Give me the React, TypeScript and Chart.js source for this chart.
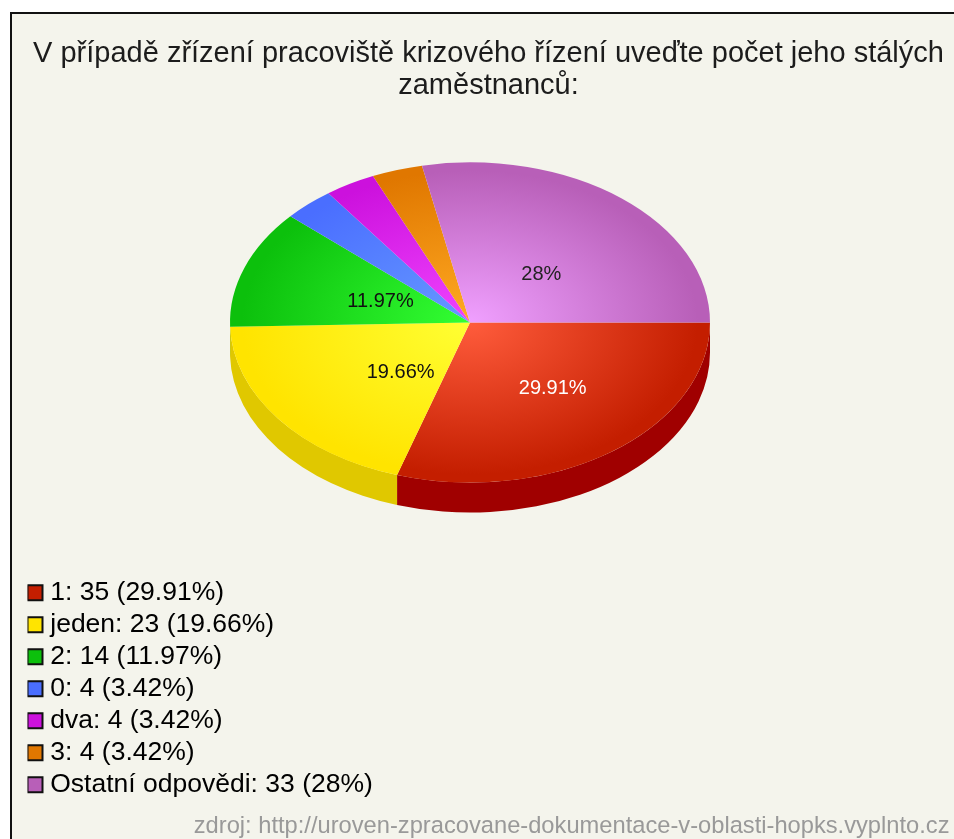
import React, { useEffect, useRef } from "react";
import { Chart, registerables } from "chart.js";

Chart.register(...registerables);

const titleLines = ["V případě zřízení pracoviště krizového řízení uveďte počet jeho stálých", "zaměstnanců:"];
const sourceText = "zdroj: http://uroven-zpracovane-dokumentace-v-oblasti-hopks.vyplnto.cz";
const categories = ["1", "jeden", "2", "0", "dva", "3", "Ostatní odpovědi"];
const counts = [35, 23, 14, 4, 4, 4, 33];
const percents = ["29.91%", "19.66%", "11.97%", "3.42%", "3.42%", "3.42%", "28%"];
const sliceLabels = ["29.91%", "19.66%", "11.97%", "", "", "", "28%"];
const labelColors = ["#ffffff", "#111111", "#111111", "#111111", "#111111", "#111111", "#222222"];
const labelNudges = [[19, 8], [17, 7], [12, 4], [0, 0], [0, 0], [0, 0], [3, 8]];
const outerColors = ["#c41e00", "#ffe400", "#0cc00c", "#4a6eff", "#cc11dd", "#e07700", "#b85fb8"];
const innerColors = ["#ff5c3c", "#ffff33", "#33ff33", "#6699ff", "#f044ff", "#ffaa22", "#f0a0ff"];
const rimColors = ["#a00000", "#e0c800", "#0a9a0a", "#3a55cc", "#a00db0", "#b06000", "#904a90"];

const FONT = "'Liberation Sans', Arial, sans-serif";
const PIE_X = 470;
const PIE_Y = 322.5;
const RADIUS = 240;
const SQUASH = 0.667;
const DEPTH = 30;
const LABEL_FRACTION = 0.45;

const piePlugin = {
  id: "flatPie",
  beforeDatasetDraw(chart: any) {
    const ctx = chart.ctx;
    const arcs = chart.getDatasetMeta(0).data;
    ctx.save();
    const cx = arcs[0].x;
    const cy = arcs[0].y;
    ctx.translate(PIE_X, PIE_Y);
    ctx.scale(1, SQUASH);
    ctx.translate(-cx, -cy);
    const d = DEPTH / SQUASH;
    arcs.forEach((arc: any, i: number) => {
      const a0 = Math.max(arc.startAngle, 0);
      const a1 = Math.min(arc.endAngle, Math.PI);
      if (a1 <= a0) return;
      ctx.beginPath();
      ctx.arc(cx, cy, arc.outerRadius, a0, a1);
      ctx.arc(cx, cy + d, arc.outerRadius, a1, a0, true);
      ctx.closePath();
      ctx.fillStyle = rimColors[i];
      ctx.fill();
    });
  },
  afterDatasetDraw(chart: any) {
    chart.ctx.restore();
  },
  afterDatasetsDraw(chart: any) {
    const ctx = chart.ctx;
    const arcs = chart.getDatasetMeta(0).data;
    ctx.save();
    ctx.font = `20px ${FONT}`;
    ctx.textAlign = "center";
    ctx.textBaseline = "middle";
    arcs.forEach((arc: any, i: number) => {
      if (!sliceLabels[i]) return;
      const mid = (arc.startAngle + arc.endAngle) / 2;
      const r = arc.outerRadius * LABEL_FRACTION;
      ctx.fillStyle = labelColors[i];
      ctx.fillText(
        sliceLabels[i],
        PIE_X + r * Math.cos(mid) + labelNudges[i][0],
        PIE_Y + r * SQUASH * Math.sin(mid) + labelNudges[i][1]
      );
    });
    ctx.restore();
  },
};

export default function App() {
  const ref = useRef<HTMLCanvasElement>(null);
  useEffect(() => {
    const chart = new Chart(ref.current as HTMLCanvasElement, {
      type: "pie",
      plugins: [piePlugin],
      data: {
        labels: categories,
        datasets: [
          {
            data: counts,
            borderWidth: 0,
            radius: RADIUS,
            backgroundColor: (c: any) => {
              const area = c.chart.chartArea;
              if (!area || c.dataIndex === undefined) return "#888888";
              const x = (area.left + area.right) / 2;
              const y = (area.top + area.bottom) / 2;
              const g = c.chart.ctx.createRadialGradient(x, y, 0, x, y, RADIUS);
              g.addColorStop(0, innerColors[c.dataIndex]);
              g.addColorStop(0.95, outerColors[c.dataIndex]);
              g.addColorStop(1, outerColors[c.dataIndex]);
              return g;
            },
          },
        ],
      },
      options: {
        animation: false,
        responsive: false,
        rotation: 90,
        layout: { padding: { top: 38, left: 27.5, right: 4.5, bottom: 0 } },
        plugins: {
          tooltip: { enabled: false },
          title: {
            display: true,
            text: titleLines,
            color: "#1c1c1c",
            font: { family: FONT, size: 29, weight: "normal", lineHeight: 1.103 },
            padding: { top: 0, bottom: 0 },
          },
          subtitle: {
            display: true,
            position: "bottom",
            align: "end",
            text: sourceText,
            color: "#999999",
            font: { family: FONT, size: 23.7, weight: "normal", lineHeight: 1.03 },
            padding: { top: 11, bottom: 0 },
          },
          legend: {
            position: "left",
            align: "end",
            fullSize: false,
            labels: {
              color: "#222222",
              font: { family: FONT, size: 26.5 },
              boxWidth: 4,
              boxHeight: 15,
              usePointStyle: true,
              padding: 5.5,
              generateLabels: () =>
                categories.map((name, i) => ({
                  text: `${name}: ${counts[i]} (${percents[i]})`,
                  fillStyle: outerColors[i],
                  strokeStyle: "#111111",
                  lineWidth: 2,
                  pointStyle: "rect",
                  hidden: false,
                  index: i,
                })),
            },
          },
        },
      },
    } as any);
    return () => chart.destroy();
  }, []);

  return (
    <div style={{ position: "absolute", left: 0, top: 0, width: 954, height: 839, overflow: "hidden", background: "#ffffff" }}>
      <div
        style={{
          position: "absolute",
          left: 10,
          top: 12,
          width: 942,
          height: 825,
          background: "#f4f4ec",
          borderLeft: "2px solid #111111",
          borderTop: "2px solid #111111",
        }}
      />
      <canvas
        ref={ref}
        width={954}
        height={839}
        style={{ position: "absolute", left: 0, top: 0, width: 954, height: 839, filter: "blur(0.7px)" }}
      />
    </div>
  );
}
